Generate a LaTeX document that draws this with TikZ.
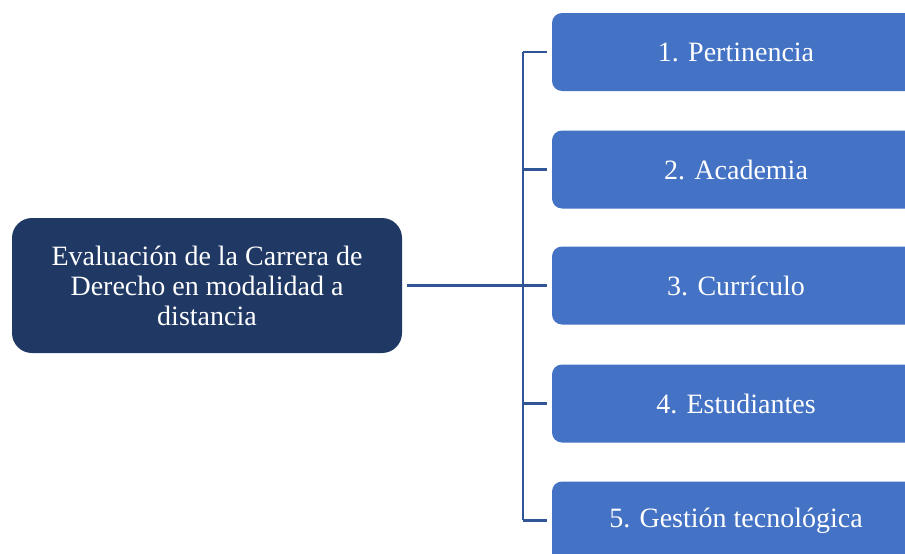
\documentclass[tikz,border=0pt]{standalone}
\usepackage{fontspec}
\setmainfont{Liberation Serif}
\definecolor{navy}{HTML}{1F3864}
\definecolor{boxblue}{HTML}{4472C4}
\definecolor{linec}{HTML}{2F5597}
\begin{document}
\begin{tikzpicture}[x=1pt,y=-1pt,
  mainbox/.style={fill=navy, draw=none, rounded corners=20pt, minimum width=390pt, minimum height=135pt, inner sep=0pt, align=center, text=white, font=\fontsize{28}{30}\selectfont},
  itembox/.style={fill=boxblue, draw=none, rounded corners=10pt, minimum width=368pt, minimum height=78pt, inner sep=0pt, text=white, font=\fontsize{28}{30}\selectfont},
  conn/.style={draw=linec, line width=2.2pt}]
\useasboundingbox (0,0) rectangle (905,554);
\clip (0,0) rectangle (905,554);
\fill[boxblue] (552,515) rectangle (920,570);
\node[mainbox] (L) at (207,285.5) {Evaluación de la Carrera de\\Derecho en modalidad a\\distancia};
\node[itembox] (b1) at (736,52) {1. Pertinencia};
\node[itembox] (b2) at (736,169.5) {2. Academia};
\node[itembox] (b3) at (736,285.5) {3. Currículo};
\node[itembox] (b4) at (736,403.5) {4. Estudiantes};
\node[itembox] (b5) at (736,520.5) {5. Gestión tecnológica};
\coordinate (vtop) at (523,52);
\coordinate (vbot) at (523,520);
\coordinate (j) at (523,285.5);
\draw[conn] (vtop) -- (vbot);
\draw[conn, shorten <=5pt] (L.east) -- (j);
\draw[conn] (j) -- ([xshift=-5pt]b3.west);
\foreach \b in {b1,b2,b4,b5}{
  \draw[conn] (vtop |- \b.west) -- ([xshift=-5pt]\b.west);
}
\end{tikzpicture}
\end{document}
